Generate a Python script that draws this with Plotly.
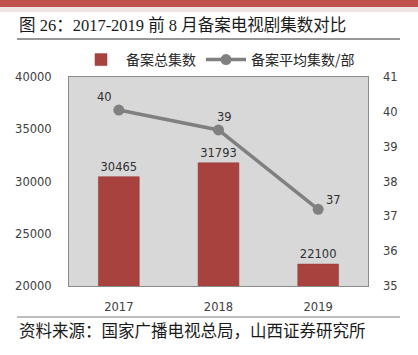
import plotly.graph_objects as go

years = ["2017", "2018", "2019"]
total_episodes = [30465, 31793, 22100]
avg_episodes = [40.05, 39.48, 37.2]
avg_labels = ["40", "39", "37"]
bar_name = "备案总集数"
line_name = "备案平均集数/部"
left_ticks = [20000, 25000, 30000, 35000, 40000]
right_ticks = [35, 36, 37, 38, 39, 40, 41]

W, H = 418, 355
L, R, T, B = 69, 368, 77, 286

def px(x):
    return (x - L) / (R - L)

def py(y):
    return (B - y) / (B - T)

fig = go.Figure()
fig.add_trace(go.Bar(
    x=years, y=total_episodes, name=bar_name, width=0.41,
    marker=dict(color="#A8423F", line=dict(color="#9a3b38", width=0.5)),
    text=[str(v) for v in total_episodes], textposition="outside",
    textfont=dict(family="DejaVu Sans", size=11.5, color="#303030"),
    cliponaxis=False,
))
fig.add_trace(go.Scatter(
    x=years, y=avg_episodes, name=line_name, yaxis="y2", mode="lines+markers",
    line=dict(color="#808080", width=3.5),
    marker=dict(color="#808080", size=11),
))

shifts = [(-14, 13), (6, 13), (15, 9)]
for i, (v, lab, (dx, dy)) in enumerate(zip(avg_episodes, avg_labels, shifts)):
    fig.add_annotation(x=i, y=v, yref="y2", text=lab, showarrow=False,
                       xshift=dx, yshift=dy,
                       font=dict(family="DejaVu Sans", size=11.5, color="#303030"))

font_cjk = "Noto Sans CJK SC"
# title
fig.add_annotation(xref="paper", yref="paper", x=px(17), y=py(26), xanchor="left", yanchor="middle",
                   text="图 26：2017-2019 前 8 月备案电视剧集数对比", showarrow=False,
                   font=dict(family="Liberation Serif, " + font_cjk, size=16.5, color="#1a1a1a"))
# footer
fig.add_annotation(xref="paper", yref="paper", x=px(17), y=py(330), xanchor="left", yanchor="middle",
                   text="资料来源：国家广播电视总局，山西证券研究所", showarrow=False,
                   font=dict(family=font_cjk, size=16.5, color="#1a1a1a"))

shapes = [
    dict(type="rect", xref="paper", yref="paper", x0=px(0), x1=px(W), y0=py(0), y1=py(7),
         fillcolor="#C0504D", line=dict(width=0), layer="above"),
    dict(type="rect", xref="paper", yref="paper", x0=px(0), x1=px(W), y0=py(7), y1=py(12),
         fillcolor="#EFE3E3", line=dict(width=0), layer="above"),
    dict(type="line", xref="paper", yref="paper", x0=px(17), x1=px(400), y0=py(39), y1=py(39),
         line=dict(color="#333333", width=1.2)),
    dict(type="line", xref="paper", yref="paper", x0=px(17), x1=px(400), y0=py(317), y1=py(317),
         line=dict(color="#7f7f7f", width=1.2)),
]

tickfont = dict(family="DejaVu Sans", size=11.5, color="#404040")
fig.update_layout(
    width=W, height=H,
    margin=dict(l=L, r=W - R, t=T, b=H - B, autoexpand=False),
    paper_bgcolor="white", plot_bgcolor="#D8D8D8",
    shapes=shapes,
    showlegend=True,
    legend=dict(orientation="h", x=px(218), xanchor="center", y=py(60), yanchor="middle",
                font=dict(family=font_cjk, size=14, color="#262626"),
                bgcolor="rgba(0,0,0,0)", itemwidth=40),
    xaxis=dict(type="category", range=[-0.5, 2.5], showgrid=False, showline=True, mirror=True,
               linecolor="#8c8c8c", linewidth=1, ticks="", tickfont=tickfont,
               ticklabelstandoff=10, automargin=False),
    yaxis=dict(range=[20000, 40000], tickvals=left_ticks, ticktext=[str(t) for t in left_ticks],
               showgrid=False, zeroline=False,
               showline=True, mirror=True, linecolor="#8c8c8c", linewidth=1, ticks="",
               tickfont=tickfont, ticklabelstandoff=14, automargin=False),
    yaxis2=dict(range=[35, 41], tickvals=right_ticks, ticktext=[str(t) for t in right_ticks],
                overlaying="y", side="right",
                showgrid=False, zeroline=False, showline=False, ticks="",
                tickfont=tickfont, ticklabelstandoff=14, automargin=False),
)

fig.write_html("out.html", config={"displayModeBar": False},
               post_script="document.body.style.margin='0';document.body.style.overflow='hidden';")
